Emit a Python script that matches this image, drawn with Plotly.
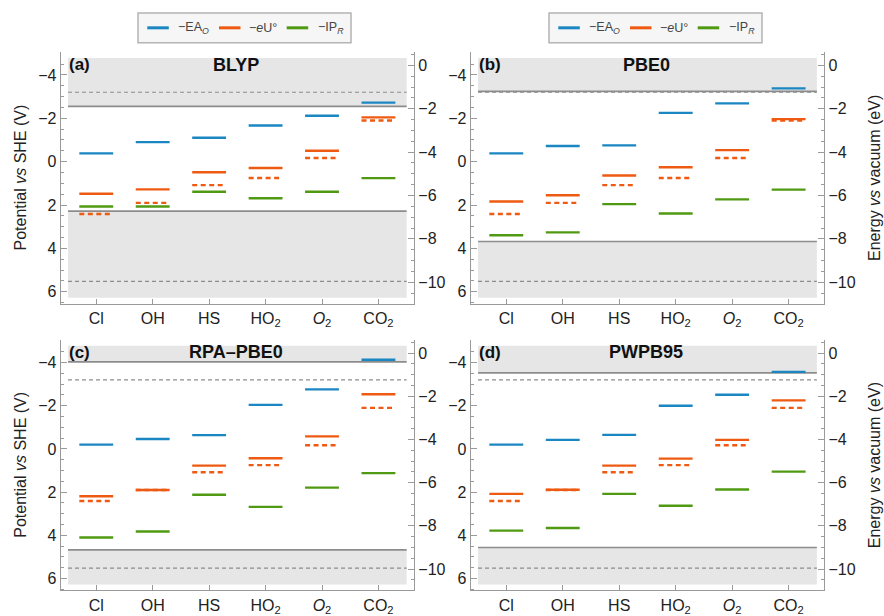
import plotly.graph_objects as go

W, H = 884, 616

# ---------------- data ----------------
categories = ["Cl", "OH", "HS", "HO2", "O2", "CO2"]
tick_labels = ["Cl", "OH", "HS", "HO<sub>2</sub>", "<i>O</i><sub>2</sub>", "CO<sub>2</sub>"]
methods = ["BLYP", "PBE0", "RPA\u2013PBE0", "PWPB95"]
panel_tags = ["(a)", "(b)", "(c)", "(d)"]

ea_blyp = [-0.38, -0.90, -1.10, -1.67, -2.12, -2.72]
eu_blyp = [1.48, 1.28, 0.49, 0.29, -0.50, -2.04]
ip_blyp = [2.07, 2.07, 1.39, 1.69, 1.39, 0.76]

ea_pbe0 = [-0.38, -0.72, -0.75, -2.25, -2.69, -3.38]
eu_pbe0 = [1.84, 1.55, 0.64, 0.26, -0.53, -1.96]
ip_pbe0 = [3.39, 3.26, 1.96, 2.39, 1.74, 1.29]

ea_rpa = [-0.20, -0.46, -0.64, -2.04, -2.76, -4.13]
eu_rpa = [2.19, 1.90, 0.77, 0.43, -0.58, -2.53]
ip_rpa = [4.10, 3.82, 2.12, 2.68, 1.79, 1.12]

ea_pwpb = [-0.20, -0.42, -0.65, -2.00, -2.51, -3.57]
eu_pwpb = [2.08, 1.89, 0.77, 0.45, -0.42, -2.25]
ip_pwpb = [3.78, 3.66, 2.08, 2.63, 1.88, 1.05]

eu_exp = [2.41, 1.90, 1.08, 0.75, -0.17, -1.90]

band_upper = [-2.55, -3.24, -4.03, -3.52]   # solid grey, upper
band_lower = [2.28, 3.68, 4.67, 4.56]       # solid grey, lower
ref_upper = -3.20                            # dashed grey
ref_lower = 5.52
vacuum_offset = 4.44                         # E_vac = -(U + 4.44)

ea_all = [ea_blyp, ea_pbe0, ea_rpa, ea_pwpb]
eu_all = [eu_blyp, eu_pbe0, eu_rpa, eu_pwpb]
ip_all = [ip_blyp, ip_pbe0, ip_rpa, ip_pwpb]

# ---------------- style ----------------
BLUE = "#1a86c2"
ORANGE = "#ef5a12"
GREEN = "#4f9a12"
GREY_LINE = "#8c8c8c"
BAND = "#e6e6e6"
AXIS = "#9a9a9a"
FONT = "Liberation Sans, Arial, sans-serif"
HALF = 0.3
TICKSIZE = 16

U_RANGE = [6.55, -5.04]
E_RANGE = [-(U_RANGE[0] + vacuum_offset), -(U_RANGE[1] + vacuum_offset)]
X_RANGE = [-0.63, 5.63]

# panel pixel boxes: (left, right, top, bottom)
boxes = [(60.7, 414.0, 52.7, 305.7), (470.7, 824.2, 52.7, 305.7),
         (60.7, 414.0, 342.3, 594.3), (470.7, 824.2, 342.3, 594.3)]


def px(xp):
    return xp / W


def py(yp):
    return 1 - yp / H


def segs(vals):
    xs, ys = [], []
    for i, v in enumerate(vals):
        xs += [i - HALF, i + HALF, None]
        ys += [v, v, None]
    return xs, ys


fig = go.Figure()
layout = dict(
    width=W, height=H, margin=dict(l=0, r=0, t=0, b=0),
    paper_bgcolor="white", plot_bgcolor="rgba(0,0,0,0)",
    font=dict(family=FONT, size=TICKSIZE, color="#222"),
    showlegend=False,
)
shapes, annotations = [], []

for k in range(4):
    n = k + 1
    nr = k + 5
    xa = "x" if n == 1 else f"x{n}"
    ya = "y" if n == 1 else f"y{n}"
    yr = f"y{nr}"
    l, r, t, b = boxes[k]

    layout[f"xaxis{'' if n == 1 else n}"] = dict(
        domain=[px(l), px(r)], range=X_RANGE, anchor=ya,
        tickmode="array", tickvals=list(range(len(categories))), ticktext=tick_labels,
        ticks="inside", ticklen=5, tickcolor=AXIS, showgrid=False, zeroline=False,
        showline=True, linecolor=AXIS, linewidth=1.2,
        tickfont=dict(size=TICKSIZE, color="#222"), fixedrange=True,
    )
    layout[f"yaxis{'' if n == 1 else n}"] = dict(
        domain=[py(b), py(t)], range=U_RANGE, anchor=xa,
        tick0=0, dtick=2, ticks="inside", ticklen=6, tickcolor=AXIS,
        minor=dict(dtick=0.5, tick0=0, ticks="inside", ticklen=3, tickcolor=AXIS, showgrid=False),
        showgrid=False, zeroline=False, showline=True, linecolor=AXIS, linewidth=1.2,
        tickfont=dict(size=TICKSIZE, color="#222"), fixedrange=True,
    )
    layout[f"yaxis{nr}"] = dict(
        overlaying=ya, side="right", anchor=xa, range=E_RANGE,
        tick0=0, dtick=2, ticks="inside", ticklen=6, tickcolor=AXIS,
        minor=dict(dtick=0.5, tick0=0, ticks="inside", ticklen=3, tickcolor=AXIS, showgrid=False),
        showgrid=False, zeroline=False, showline=True, linecolor=AXIS, linewidth=1.2,
        tickfont=dict(size=TICKSIZE, color="#222"), fixedrange=True,
    )
    # placeholder so the right-hand axis is drawn
    fig.add_trace(go.Scatter(x=[None], y=[None], xaxis=xa, yaxis=yr,
                             mode="lines", hoverinfo="skip"))

    # grey regions
    shapes.append(dict(type="rect", xref=xa, yref=ya, x0=-0.5, x1=5.5,
                       y0=-4.78, y1=band_upper[k], fillcolor=BAND, line_width=0, layer="below"))
    shapes.append(dict(type="rect", xref=xa, yref=ya, x0=-0.5, x1=5.5,
                       y0=band_lower[k], y1=6.27, fillcolor=BAND, line_width=0, layer="below"))
    for yv in (band_upper[k], band_lower[k]):
        shapes.append(dict(type="line", xref=xa, yref=ya, x0=-0.5, x1=5.5, y0=yv, y1=yv,
                           line=dict(color=GREY_LINE, width=1.6), layer="below"))
    for yv in (ref_upper, ref_lower):
        shapes.append(dict(type="line", xref=xa, yref=ya, x0=-0.5, x1=5.5, y0=yv, y1=yv,
                           line=dict(color=GREY_LINE, width=1.2, dash="4px,3px"), layer="below"))

    # energy levels
    for vals, col, dash in ((eu_exp, ORANGE, "5px,3.5px"), (ip_all[k], GREEN, "solid"),
                            (eu_all[k], ORANGE, "solid"), (ea_all[k], BLUE, "solid")):
        xs, ys = segs(vals)
        fig.add_trace(go.Scatter(x=xs, y=ys, xaxis=xa, yaxis=ya, mode="lines",
                                 line=dict(color=col, width=2.4, dash=dash),
                                 hoverinfo="skip", connectgaps=False))

    # panel labels
    annotations.append(dict(text=f"<b>{panel_tags[k]}</b>", xref="paper", yref="paper",
                            x=px(l + 6), y=py(t + 12.5), xanchor="left", yanchor="middle",
                            showarrow=False, font=dict(size=17, color="#111")))
    annotations.append(dict(text=f"<b>{methods[k]}</b>", xref="paper", yref="paper",
                            x=px((l + r) / 2 - 1), y=py(t + 12.5), xanchor="center", yanchor="middle",
                            showarrow=False, font=dict(size=18, color="#111")))

# axis titles
for yc in ((52.7 + 305.7) / 2, (342.3 + 594.3) / 2):
    annotations.append(dict(text="Potential <i>vs</i> SHE (V)", xref="paper", yref="paper",
                            x=px(20.5), y=py(yc), textangle=-90, showarrow=False,
                            xanchor="center", yanchor="middle", font=dict(size=16, color="#222")))
    annotations.append(dict(text="Energy <i>vs</i> vacuum (eV)", xref="paper", yref="paper",
                            x=px(874), y=py(yc), textangle=-90, showarrow=False,
                            xanchor="center", yanchor="middle", font=dict(size=16, color="#222")))

# legend boxes
legend_items = [("\u2212EA<sub><i>O</i></sub>", BLUE, 9.3, 38),
                ("\u2212<i>e</i>U\u00b0", ORANGE, 81, 109),
                ("\u2212IP<sub><i>R</i></sub>", GREEN, 148.7, 178)]
for bx in (138.0, 549.0):
    shapes.append(dict(type="rect", xref="paper", yref="paper", x0=px(bx), x1=px(bx + 213),
                       y0=py(43), y1=py(13), fillcolor="#f6f6f6",
                       line=dict(color="#b4b4b4", width=1.5)))
    for label, col, lx, tx in legend_items:
        shapes.append(dict(type="line", xref="paper", yref="paper",
                           x0=px(bx + lx), x1=px(bx + lx + 21.5), y0=py(28), y1=py(28),
                           line=dict(color=col, width=3)))
        annotations.append(dict(text=label, xref="paper", yref="paper", x=px(bx + tx), y=py(28),
                                xanchor="left", yanchor="middle", showarrow=False,
                                font=dict(size=12.5, color="#444")))

layout["shapes"] = shapes
layout["annotations"] = annotations
fig.update_layout(**layout)
fig.write_html(
    "out.html",
    config={"displayModeBar": False},
    post_script="document.body.style.margin='0';document.body.style.padding='0';"
                "document.body.style.overflow='hidden';",
)
